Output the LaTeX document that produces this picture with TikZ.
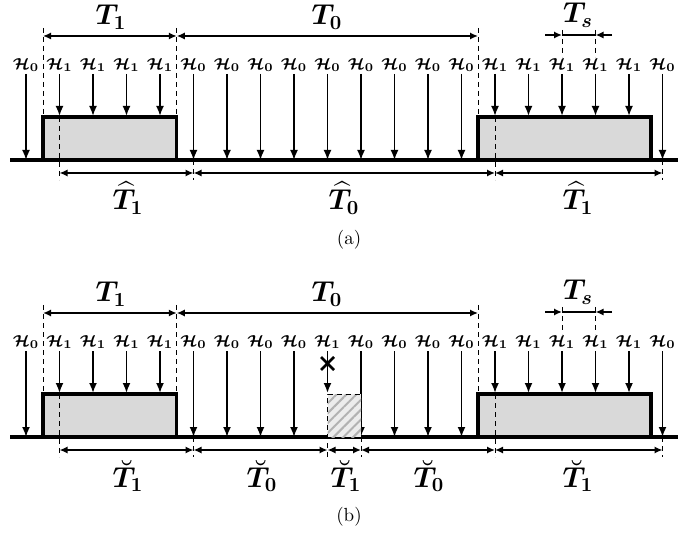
\documentclass[tikz,border=0pt]{standalone}
\usepackage{amsmath}
\usetikzlibrary{arrows.meta,patterns.meta}

\begin{document}
\begin{tikzpicture}[x=0.5pt,y=-0.5pt,>={Latex[length=5pt,width=4pt]},
    senal/.style={->,line width=0.9pt},
    cota/.style={<->,line width=0.8pt,>={Latex[length=4pt,width=3.6pt]}},
    guia/.style={dashed,line width=0.5pt,dash pattern=on 2.5pt off 2pt},
    caja/.style={fill=gray!30,line width=1.6pt},
    hlab/.style={font=\fontsize{8.5}{10}\selectfont\boldmath,inner sep=1pt,anchor=south},
    tlab/.style={font=\fontsize{14}{16}\selectfont\boldmath,inner sep=0pt},
    rotulo/.style={font=\fontsize{9.5}{11}\selectfont}]
    \useasboundingbox (0,0) rectangle (699,533);
    % Dos paneles: (a) y (b)
    \foreach \oy/\p/\ceros in {0/a/{0,5,6,7,8,9,10,11,12,13,19},
                               277/b/{0,5,6,7,8,10,11,12,13,19}}{
        \coordinate (base\p) at (0,160+\oy);
        \coordinate (tope\p) at (0,116+\oy);
        % Bloques H1
        \filldraw[caja] (43,160+\oy) -- (43,117+\oy) -- (176.75,117+\oy) -- (176.75,160+\oy);
        \filldraw[caja] (478,160+\oy) -- (478,117+\oy) -- (651,117+\oy) -- (651,160+\oy);
        \draw[line width=1.6pt] (10,160+\oy) -- (678,160+\oy);
        % Guias
        \foreach \x/\ya/\yb in {43/28/117, 176.75/28/117, 478/28/117,
                59.5/117/180, 193.5/160/180, 495/117/180, 662.5/160/180,
                562/30/57, 595.5/30/57}
            \draw[guia] ({\x},{\ya+\oy}) -- ({\x},{\yb+\oy});
        % Muestras
        \foreach \k in \ceros {
            \node[hlab] (h\p\k) at ({26+33.5*\k},{74+\oy}) {$\mathcal{H}_0$};
            \draw[senal] (h\p\k.south) -- (h\p\k.south |- base\p);
        }
        \foreach \k in {1,2,3,4,14,15,16,17,18} {
            \node[hlab] (h\p\k) at ({26+33.5*\k},{74+\oy}) {$\mathcal{H}_1$};
            \draw[senal] (h\p\k.south) -- (h\p\k.south |- tope\p);
        }
        % Cotas superiores
        \draw[cota] (43,36+\oy) -- (176.75,36+\oy);
        \draw[cota] (176.75,36+\oy) -- (478,36+\oy);
        \node[tlab] (ta\p) at (111,17+\oy) {$T_1$};
        \node[tlab] (tb\p) at (327,17+\oy) {$T_0$};
        \draw[line width=0.8pt] (562,35+\oy) -- (595.5,35+\oy);
        \draw[cota,-{Latex[length=4pt,width=3.6pt]}] (545,35+\oy) -- (562,35+\oy);
        \draw[cota,-{Latex[length=4pt,width=3.6pt]}] (612,35+\oy) -- (595.5,35+\oy);
        \node[tlab] (ts\p) at (578,15+\oy) {$T_s$};
    }
    % Panel (a): cotas inferiores
    \draw[cota] (59.5,173) -- (193.5,173);
    \draw[cota] (193.5,173) -- (495,173);
    \draw[cota] (495,173) -- (662.5,173);
    \node[tlab] (ha1) at (128,198) {$\widehat{T}_1$};
    \node[tlab] (ha0) at (344,198) {$\widehat{T}_0$};
    \node[tlab] (ha2) at (578,198) {$\widehat{T}_1$};
    \node[rotulo] (capa) at (349,240) {(a)};
    % Panel (b): muestra perdida
    \fill[gray!15] (327.5,394) rectangle (361,437);
    \fill[pattern={Lines[angle=45,distance=3.5pt,line width=1pt]},pattern color=gray!60]
        (327.5,394) rectangle (361,437);
    \draw[guia] (327.5,457) -- (327.5,394) -- (361,394);
    \draw[guia] (361,437) -- (361,457);
    \node[hlab] (hb9) at (327.5,351) {$\mathcal{H}_1$};
    \draw[senal] (hb9.south) -- (327.5,393);
    \draw[line width=1.3pt] (321,357) -- (334,370) (321,370) -- (334,357);
    % Panel (b): cotas inferiores
    \draw[cota] (59.5,450) -- (193.5,450);
    \draw[cota] (193.5,450) -- (327.5,450);
    \draw[cota] (327.5,450) -- (361,450);
    \draw[cota] (361,450) -- (495,450);
    \draw[cota] (495,450) -- (662.5,450);
    \node[tlab] (hb1) at (128,476) {$\breve{T}_1$};
    \node[tlab] (hb0) at (262,476) {$\breve{T}_0$};
    \node[tlab] (hb2) at (346,476) {$\breve{T}_1$};
    \node[tlab] (hb3) at (429,476) {$\breve{T}_0$};
    \node[tlab] (hb4) at (578,476) {$\breve{T}_1$};
    \node[rotulo] (capb) at (349,517) {(b)};
\end{tikzpicture}
\end{document}
